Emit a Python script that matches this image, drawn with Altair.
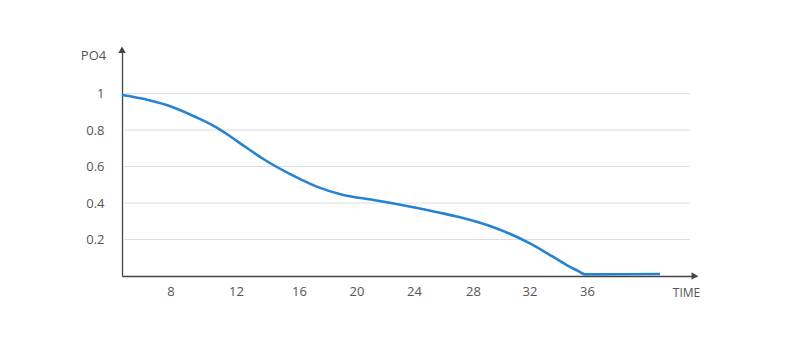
import altair as alt
import pandas as pd

time = [4.8, 6.53, 8.07, 9.5, 10.72, 11.53, 12.57, 13.84, 15.54, 17.23, 19.08, 21.17, 23.49,
        25.76, 27.12, 29.2, 32.03, 33.43, 34.59, 35.4, 35.86, 40.91]
po4 = [0.992, 0.965, 0.928, 0.873, 0.819, 0.773, 0.709, 0.636, 0.554, 0.49, 0.444, 0.417, 0.384,
       0.347, 0.322, 0.274, 0.179, 0.115, 0.06, 0.027, 0.009, 0.011]
x_ticks = [8, 12, 16, 20, 24, 28, 32, 36]
y_ticks = [0.2, 0.4, 0.6, 0.8, 1]
x_domain = [4.8, 8, 12, 16, 20, 24, 28, 32, 36, 43.4]
x_range = [0, 48.5, 114, 177, 234.5, 292, 351, 407.5, 465, 575]
y_domain = [0, 1.25]

df = pd.DataFrame({"TIME": time, "PO4": po4})
grid = pd.DataFrame({"g": y_ticks, "t0": [4.95] * len(y_ticks), "t1": [42.9] * len(y_ticks)})
arrows = pd.DataFrame({"x": [4.8, 43.25], "y": [1.24, 0], "shape": ["triangle-up", "triangle-right"]})

xs = alt.Scale(domain=x_domain, range=x_range, nice=False, zero=False)
ys = alt.Scale(domain=y_domain, nice=False)

gridlines = alt.Chart(grid).mark_rule(color="#dddddd", strokeWidth=1).encode(
    x=alt.X("t0:Q", scale=xs), x2="t1:Q", y=alt.Y("g:Q", scale=ys)
)

line = alt.Chart(df).mark_line(color="#2783d0", strokeWidth=2.6, interpolate="monotone").encode(
    x=alt.X("TIME:Q", scale=xs,
            axis=alt.Axis(values=x_ticks, grid=False, ticks=False, domainColor="#444444", domainWidth=1.3,
                          labelColor="#555555", labelFontSize=13, labelFont="Open Sans", labelPadding=9,
                          title="TIME", titleFont="Open Sans", titleFontSize=12, titleFontWeight="normal",
                          titleColor="#555555", titleX=564, titleY=16, titleBaseline="middle", titleAlign="center")),
    y=alt.Y("PO4:Q", scale=ys,
            axis=alt.Axis(values=y_ticks, format="~g", grid=False, ticks=False, domainColor="#444444", domainWidth=1.3,
                          labelColor="#555555", labelFontSize=13, labelFont="Open Sans", labelPadding=18,
                          title="PO4", titleAngle=0, titleFont="Open Sans", titleFontSize=13,
                          titleFontWeight="normal", titleColor="#555555", titleX=-29, titleY=7,
                          titleBaseline="middle", titleAlign="center")),
)

arrow_marks = alt.Chart(arrows).mark_point(filled=True, color="#444444", size=55, opacity=1).encode(
    x=alt.X("x:Q", scale=xs), y=alt.Y("y:Q", scale=ys),
    shape=alt.Shape("shape:N", scale=None),
)

chart = alt.layer(gridlines, line, arrow_marks).properties(
    width=575, height=228,
    background="white",
    autosize=alt.AutoSizeParams(type="none"),
    padding={"left": 122, "top": 48, "right": 93, "bottom": 80},
).configure_view(stroke=None)

chart.save("out.html", embed_options={"renderer": "svg", "actions": False})
